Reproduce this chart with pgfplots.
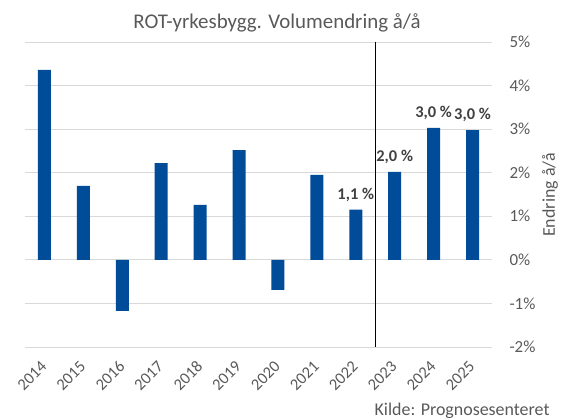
\documentclass[border=0pt]{standalone}
\usepackage{pgfplots}
\pgfplotsset{compat=1.18}
\usepackage{pgfplotstable}
\usepackage{fontspec}
\setmainfont{Carlito}
\definecolor{barblue}{RGB}{0,76,153}
\definecolor{txtgrey}{RGB}{89,89,89}
\definecolor{lblgrey}{RGB}{64,64,64}
\definecolor{gridgrey}{RGB}{217,217,217}
\pgfplotstableread{
x y lab
0 4.36 {}
1 1.70 {}
2 -1.17 {}
3 2.22 {}
4 1.26 {}
5 2.52 {}
6 -0.69 {}
7 1.95 {}
8 1.15 {1,1 \%}
9 2.02 {2,0 \%}
10 3.03 {3,0 \%}
11 2.98 {3,0 \%}
}\datatable
\begin{document}
\begin{tikzpicture}
\path[use as bounding box] (0,0) rectangle (563bp,419bp);
\begin{axis}[
 at={(25bp,72bp)}, anchor=south west,
 scale only axis, width=467bp, height=305bp,
 xmin=-0.5, xmax=11.5, ymin=-2, ymax=5,
 ytick={-2,-1,0,1,2,3,4,5},
 yticklabel={\pgfmathprintnumber{\tick}\%},
 yticklabel pos=right,
 yticklabel style={anchor=west, xshift=14bp, font=\fontsize{17}{19}\selectfont, text=txtgrey},
 /pgf/number format/assume math mode=true,
 ymajorgrids, grid style={gridgrey, line width=0.9pt},
 axis line style={draw=none},
 major tick length=0pt,
 xtick={0,1,2,3,4,5,6,7,8,9,10,11},
 xticklabels={2014,2015,2016,2017,2018,2019,2020,2021,2022,2023,2024,2025},
 xticklabel style={xshift=-4.5bp, yshift=-8bp, rotate=45, anchor=north east, font=\fontsize{16.5}{18}\selectfont, text=txtgrey},
 ybar, bar width=13bp,
 clip=false,
]
\addplot[fill=barblue, draw=none,
  nodes near coords={\pgfplotspointmeta},
  point meta=explicit symbolic,
  every node near coord/.style={font=\bfseries\fontsize{16.5}{18}\selectfont, text=lblgrey, yshift=5bp}
] table[x=x, y=y, meta=lab] {\datatable};
\draw[black, line width=1.2pt] (axis cs:8.5,-2) -- (axis cs:8.5,5);
\end{axis}
\node[anchor=base, font=\fontsize{21}{24}\selectfont, text=txtgrey] at (277bp,390bp) {ROT-yrkesbygg. Volumendring å/å};
\node[rotate=90, font=\fontsize{18}{20}\selectfont, text=txtgrey] at (550bp,224bp) {Endring å/å};
\node[anchor=base east, font=\fontsize{18}{20}\selectfont, text=txtgrey] at (553bp,4bp) {Kilde: Prognosesenteret};
\end{tikzpicture}
\end{document}
